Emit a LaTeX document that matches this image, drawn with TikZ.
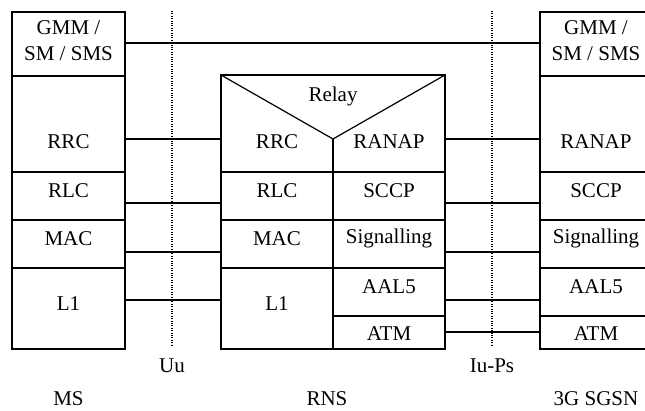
\documentclass[tikz,border=0pt]{standalone}
\usepackage{fontspec}
\setmainfont{Liberation Serif}
\begin{document}
\begin{tikzpicture}[x=1pt,y=-1pt,
  box/.style={draw,line width=1.2pt,inner sep=0pt,outer sep=0pt,rectangle},
  lbl/.style={font=\fontsize{21}{25}\selectfont,anchor=base,inner sep=0pt},
  conn/.style={line width=1.1pt},
  iface/.style={line width=1.1pt,dash pattern=on 1pt off 1.4pt}]
\clip (0,0) rectangle (645,410);
% ---------- MS stack ----------
\node[box,minimum width=113pt,minimum height=64pt] (msGMM) at (68.5,44) {};
\node[box,minimum width=113pt,minimum height=96pt] (msRRC) at (68.5,124) {};
\node[box,minimum width=113pt,minimum height=48pt] (msRLC) at (68.5,196) {};
\node[box,minimum width=113pt,minimum height=48pt] (msMAC) at (68.5,244) {};
\node[box,minimum width=113pt,minimum height=81pt] (msL1) at (68.5,308.5) {};
\node[lbl] (tmsGMM1) at (68.5,34) {GMM /};
\node[lbl] (tmsGMM2) at (68.5,60) {SM / SMS};
\node[lbl] (tmsRRC) at (68.5,148) {RRC};
\node[lbl] (tmsRLC) at (68.5,197) {RLC};
\node[lbl] (tmsMAC) at (68.5,245) {MAC};
\node[lbl] (tmsL1) at (68.5,310) {L1};
% ---------- RNS stack ----------
\node[box,minimum width=224pt,minimum height=97pt] (rnsTop) at (333,123.5) {};
\coordinate (apex) at (333,139);
\draw[line width=1.2pt] (rnsTop.north west) -- (apex) -- (rnsTop.north east);
\draw[line width=1.2pt] (apex) -- (apex |- rnsTop.south);
\node[box,minimum width=112pt,minimum height=48pt] (rnsRLC) at (277,196) {};
\node[box,minimum width=112pt,minimum height=48pt] (rnsMAC) at (277,244) {};
\node[box,minimum width=112pt,minimum height=81pt] (rnsL1) at (277,308.5) {};
\node[box,minimum width=112pt,minimum height=48pt] (rnsSCCP) at (389,196) {};
\node[box,minimum width=112pt,minimum height=48pt] (rnsSIG) at (389,244) {};
\node[box,minimum width=112pt,minimum height=48pt] (rnsAAL) at (389,292) {};
\node[box,minimum width=112pt,minimum height=33pt] (rnsATM) at (389,332.5) {};
\coordinate (rnsRRCw) at (221,139);
\coordinate (rnsRANAPe) at (445,139);
\node[lbl] (trelay) at (333,101) {Relay};
\node[lbl] (trnsRRC) at (277,148) {RRC};
\node[lbl] (trnsRANAP) at (389,148) {RANAP};
\node[lbl] (trnsRLC) at (277,197) {RLC};
\node[lbl] (trnsMAC) at (277,245) {MAC};
\node[lbl] (trnsL1) at (277,310) {L1};
\node[lbl] (trnsSCCP) at (389,197) {SCCP};
\node[lbl] (trnsSIG) at (389,243) {Signalling};
\node[lbl] (trnsAAL) at (389,293) {AAL5};
\node[lbl] (trnsATM) at (389,340) {ATM};
% ---------- SGSN stack ----------
\node[box,minimum width=112pt,minimum height=64pt] (sgGMM) at (596,44) {};
\node[box,minimum width=112pt,minimum height=96pt] (sgRANAP) at (596,124) {};
\node[box,minimum width=112pt,minimum height=48pt] (sgSCCP) at (596,196) {};
\node[box,minimum width=112pt,minimum height=48pt] (sgSIG) at (596,244) {};
\node[box,minimum width=112pt,minimum height=48pt] (sgAAL) at (596,292) {};
\node[box,minimum width=112pt,minimum height=33pt] (sgATM) at (596,332.5) {};
\node[lbl] (tsgGMM1) at (596,34) {GMM /};
\node[lbl] (tsgGMM2) at (596,60) {SM / SMS};
\node[lbl] (tsgRANAP) at (596,148) {RANAP};
\node[lbl] (tsgSCCP) at (596,197) {SCCP};
\node[lbl] (tsgSIG) at (596,243) {Signalling};
\node[lbl] (tsgAAL) at (596,293) {AAL5};
\node[lbl] (tsgATM) at (596,340) {ATM};
% ---------- connector levels ----------
\coordinate (yGMM) at (0,43);
\coordinate (yRRC) at (0,139);
\coordinate (yRLC) at (0,203);
\coordinate (yMAC) at (0,252);
\coordinate (yL1) at (0,300);
\coordinate (yATM) at (0,332);
\draw[conn] (msGMM.east |- yGMM) -- (sgGMM.west |- yGMM);
\draw[conn] (msRRC.east |- yRRC) -- (rnsRRCw);
\draw[conn] (msRLC.east |- yRLC) -- (rnsRLC.west |- yRLC);
\draw[conn] (msMAC.east |- yMAC) -- (rnsMAC.west |- yMAC);
\draw[conn] (msL1.east |- yL1) -- (rnsL1.west |- yL1);
\draw[conn] (rnsRANAPe) -- (sgRANAP.west |- yRRC);
\draw[conn] (rnsSCCP.east |- yRLC) -- (sgSCCP.west |- yRLC);
\draw[conn] (rnsSIG.east |- yMAC) -- (sgSIG.west |- yMAC);
\draw[conn] (rnsAAL.east |- yL1) -- (sgAAL.west |- yL1);
\draw[conn] (rnsATM.east |- yATM) -- (sgATM.west |- yATM);
% ---------- interfaces ----------
\coordinate (uuTop) at (172,11);
\coordinate (uuBot) at (172,345);
\coordinate (iuTop) at (492,11);
\coordinate (iuBot) at (492,345);
\draw[iface] (uuTop) -- (uuBot);
\draw[iface] (iuTop) -- (iuBot);
\node[lbl] (tUu) at (172,372) {Uu};
\node[lbl] (tIu) at (492,372) {Iu-Ps};
% ---------- entity labels ----------
\node[lbl] (tMS) at (68.5,405) {MS};
\node[lbl] (tRNS) at (327,405) {RNS};
\node[lbl] (tSGSN) at (596,405) {3G SGSN};
\end{tikzpicture}
\end{document}
